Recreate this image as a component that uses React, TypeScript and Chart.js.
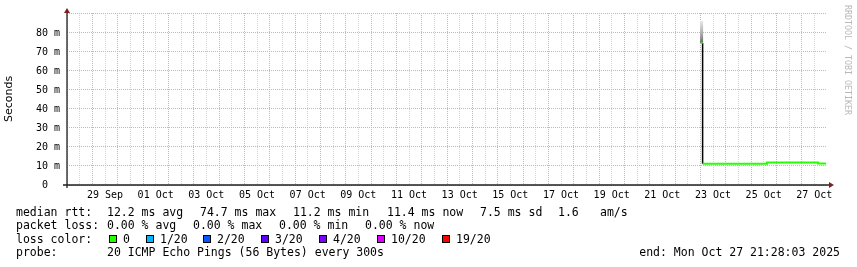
import React, { useEffect, useRef } from "react";
import { Chart, registerables } from "chart.js";

Chart.register(...registerables);

// x values: days since 28 Sep 2025 00:00 ; y values: seconds
const X_MIN = 0;
const X_MAX = 30;
const Y_MIN = 0;
const Y_MAX = 0.0905;

const xLabelDays = [1.5, 3.5, 5.5, 7.5, 9.5, 11.5, 13.5, 15.5, 17.5, 19.5, 21.5, 23.5, 25.5, 27.5, 29.5];
const xLabels = ["29 Sep", "01 Oct", "03 Oct", "05 Oct", "07 Oct", "09 Oct", "11 Oct", "13 Oct", "15 Oct", "17 Oct", "19 Oct", "21 Oct", "23 Oct", "25 Oct", "27 Oct"];
const xGridStep = 0.5; // minor grid every 12h, major every day

const yLabelValues = [0, 0.01, 0.02, 0.03, 0.04, 0.05, 0.06, 0.07, 0.08];
const yLabels = ["0  ", "10 m", "20 m", "30 m", "40 m", "50 m", "60 m", "70 m", "80 m"];
const yGridStep = 0.005;

// median rtt samples (stepped)
const sampleDays = [25.03, 25.09, 27.63, 29.65, 29.96];
const medianRtt = [0.0747, 0.0112, 0.0118, 0.0113, 0.0113];
// smoke of first sample
const smokeDay = 25.05;
const smokeLow = 0.0747;
const smokeHigh = 0.0863;

const statLine1 = [
  { x: 16, t: "median rtt:" },
  { x: 107, t: "12.2 ms avg" },
  { x: 200, t: "74.7 ms max" },
  { x: 293, t: "11.2 ms min" },
  { x: 387, t: "11.4 ms now" },
  { x: 480, t: "7.5 ms sd" },
  { x: 558, t: "1.6" },
  { x: 600, t: "am/s" },
];
const statLine2 = [
  { x: 16, t: "packet loss:" },
  { x: 107, t: "0.00 % avg" },
  { x: 193, t: "0.00 % max" },
  { x: 279, t: "0.00 % min" },
  { x: 365, t: "0.00 % now" },
];
const lossLabels = ["0", "1/20", "2/20", "3/20", "4/20", "10/20", "19/20"];
const lossColors = ["#26ff00", "#00b8ff", "#0059ff", "#5e00ff", "#7e00ff", "#dd00ff", "#ff0000"];
const lossBoxX = [109, 146, 203, 261, 319, 377, 442];
const probeText = "20 ICMP Echo Pings (56 Bytes) every 300s";
const endText = "end: Mon Oct 27 21:28:03 2025";
const watermark = "RRDTOOL / TOBI OETIKER";

const MONO = '"DejaVu Sans Mono", monospace';
const GRID_MINOR = "rgb(214,214,214)";
const GRID_MAJOR = "rgb(238,165,165)";

const rrdPlugin = {
  id: "rrdDecor",
  beforeDraw(chart: any) {
    const ctx = chart.ctx;
    ctx.save();
    ctx.fillStyle = "#ffffff";
    ctx.fillRect(0, 0, chart.width, chart.height);
    ctx.restore();
  },
  afterDraw(chart: any) {
    const ctx = chart.ctx;
    const area = chart.chartArea;
    ctx.save();
    // axes
    ctx.strokeStyle = "#1f1f1f";
    ctx.lineWidth = 1.3;
    ctx.beginPath();
    ctx.moveTo(area.left - 4, area.bottom);
    ctx.lineTo(area.right + 2, area.bottom);
    ctx.stroke();
    ctx.beginPath();
    ctx.moveTo(area.left, area.bottom + 3);
    ctx.lineTo(area.left, area.top);
    ctx.stroke();
    // arrows
    ctx.fillStyle = "#801f1f";
    ctx.beginPath();
    ctx.moveTo(area.left, area.top - 5);
    ctx.lineTo(area.left - 3, area.top);
    ctx.lineTo(area.left + 3, area.top);
    ctx.closePath();
    ctx.fill();
    ctx.beginPath();
    ctx.moveTo(area.right + 7, area.bottom);
    ctx.lineTo(area.right + 2, area.bottom - 3);
    ctx.lineTo(area.right + 2, area.bottom + 3);
    ctx.closePath();
    ctx.fill();

    // legend text
    ctx.fillStyle = "#000000";
    ctx.font = `11.5px ${MONO}`;
    ctx.textBaseline = "alphabetic";
    ctx.textAlign = "left";
    statLine1.forEach((s) => ctx.fillText(s.t, s.x, 215.5));
    statLine2.forEach((s) => ctx.fillText(s.t, s.x, 229));
    ctx.fillText("loss color:", 16, 243);
    lossLabels.forEach((lab, i) => {
      const bx = lossBoxX[i];
      ctx.fillStyle = lossColors[i];
      ctx.fillRect(bx, 235, 8, 8);
      ctx.strokeStyle = "#000000";
      ctx.lineWidth = 1;
      ctx.strokeRect(bx + 0.5, 235.5, 7, 7);
      ctx.fillStyle = "#000000";
      ctx.fillText(lab, bx + 14, 243);
    });
    ctx.fillText("probe:", 16, 256);
    ctx.fillText(probeText, 107, 256);
    ctx.textAlign = "right";
    ctx.fillText(endText, 840, 256);

    // watermark
    ctx.translate(847.5, 60);
    ctx.rotate(Math.PI / 2);
    ctx.textAlign = "center";
    ctx.textBaseline = "middle";
    ctx.fillStyle = "#b8b8b8";
    ctx.font = `8.3px ${MONO}`;
    ctx.fillText(watermark, 0, 0);
    ctx.restore();
  },
};

function isMajorX(v: number) {
  return Math.abs(v - Math.round(v)) < 1e-6;
}
function isMajorY(v: number) {
  const tenMs = v * 100;
  return Math.abs(tenMs - Math.round(tenMs)) < 1e-6;
}

export default function App() {
  const ref = useRef<HTMLCanvasElement | null>(null);

  useEffect(() => {
    if (!ref.current) return;
    const smokeColor = (c: any) => {
      const chart = c.chart;
      const y = chart.scales && chart.scales.y;
      if (!chart.chartArea || !y) return "#999999";
      const g = chart.ctx.createLinearGradient(0, y.getPixelForValue(smokeHigh), 0, y.getPixelForValue(smokeLow));
      g.addColorStop(0, "#e8e8e8");
      g.addColorStop(0.6, "#a8a8a8");
      g.addColorStop(1, "#6a6a6a");
      return g;
    };

    const chart = new Chart(ref.current, {
      type: "line",
      data: {
        datasets: [
          {
            label: "median",
            data: sampleDays.slice(1).map((d, i) => ({ x: d, y: medianRtt[i + 1] })),
            stepped: "before",
            borderColor: lossColors[0],
            borderWidth: 2,
            pointRadius: 0,
            order: 0,
          },
          {
            label: "median-first",
            data: [
              { x: sampleDays[0], y: medianRtt[0] },
              { x: sampleDays[1], y: medianRtt[0] },
            ],
            borderColor: lossColors[0],
            borderWidth: 2,
            pointRadius: 0,
            order: 0,
          },
          {
            label: "step",
            data: [
              { x: sampleDays[1], y: medianRtt[0] },
              { x: sampleDays[1], y: medianRtt[1] },
            ],
            borderColor: "#000000",
            borderWidth: 1.5,
            pointRadius: 0,
            order: 1,
          },
          {
            label: "smoke",
            data: [
              { x: smokeDay, y: smokeLow },
              { x: smokeDay, y: smokeHigh },
            ],
            borderColor: smokeColor,
            borderWidth: 3,
            borderCapStyle: "butt",
            pointRadius: 0,
            order: 2,
          },
        ],
      },
      options: {
        animation: false,
        responsive: false,
        devicePixelRatio: 1,
        layout: { padding: { left: 0, right: 30, top: 13, bottom: 0 } },
        plugins: { legend: { display: false }, tooltip: { enabled: false } },
        events: [],
        scales: {
          x: {
            type: "linear",
            min: X_MIN,
            max: X_MAX,
            offset: false,
            afterBuildTicks: (s: any) => {
              const t = [];
              for (let v = X_MIN; v < X_MAX; v += xGridStep) t.push({ value: v });
              s.ticks = t;
            },
            afterFit: (s: any) => {
              s.height = 82;
            },
            grid: {
              drawTicks: false,
              offset: false,
              lineWidth: 1,
              color: (c: any) => (c.tick && isMajorX(c.tick.value) ? GRID_MAJOR : GRID_MINOR),
            },
            border: { display: false, dash: [1, 1] },
            ticks: {
              autoSkip: false,
              maxRotation: 0,
              minRotation: 0,
              padding: 4,
              color: "#000000",
              font: { family: MONO, size: 10 },
              callback: (v: any) => {
                const i = xLabelDays.findIndex((d) => Math.abs(d - Number(v)) < 1e-6);
                return i >= 0 ? xLabels[i] : "";
              },
            },
          },
          y: {
            type: "linear",
            min: Y_MIN,
            max: Y_MAX,
            afterBuildTicks: (s: any) => {
              const t = [];
              for (let v = Y_MIN; v <= Y_MAX + 1e-9; v += yGridStep) t.push({ value: Math.round(v * 10000) / 10000 });
              s.ticks = t;
            },
            afterFit: (s: any) => {
              s.width = 67;
            },
            grid: {
              drawTicks: false,
              lineWidth: 1,
              color: (c: any) => (c.tick && isMajorY(c.tick.value) ? GRID_MAJOR : GRID_MINOR),
            },
            border: { display: false, dash: [1, 1] },
            title: {
              display: true,
              text: "Seconds",
              color: "#000000",
              font: { family: '"DejaVu Sans", sans-serif', size: 11, weight: "normal" },
              padding: { top: 3, bottom: 0 },
            },
            ticks: {
              padding: 7,
              color: "#000000",
              font: { family: MONO, size: 10 },
              callback: (v: any) => {
                const i = yLabelValues.findIndex((d) => Math.abs(d - Number(v)) < 1e-7);
                return i >= 0 ? yLabels[i] : "";
              },
            },
          },
        },
      },
      plugins: [rrdPlugin],
    } as any);

    return () => chart.destroy();
  }, []);

  return (
    <div style={{ position: "absolute", left: 0, top: 0, width: 857, height: 267, background: "#ffffff" }}>
      <canvas ref={ref} width={857} height={267} style={{ display: "block", width: 857, height: 267 }} />
    </div>
  );
}
